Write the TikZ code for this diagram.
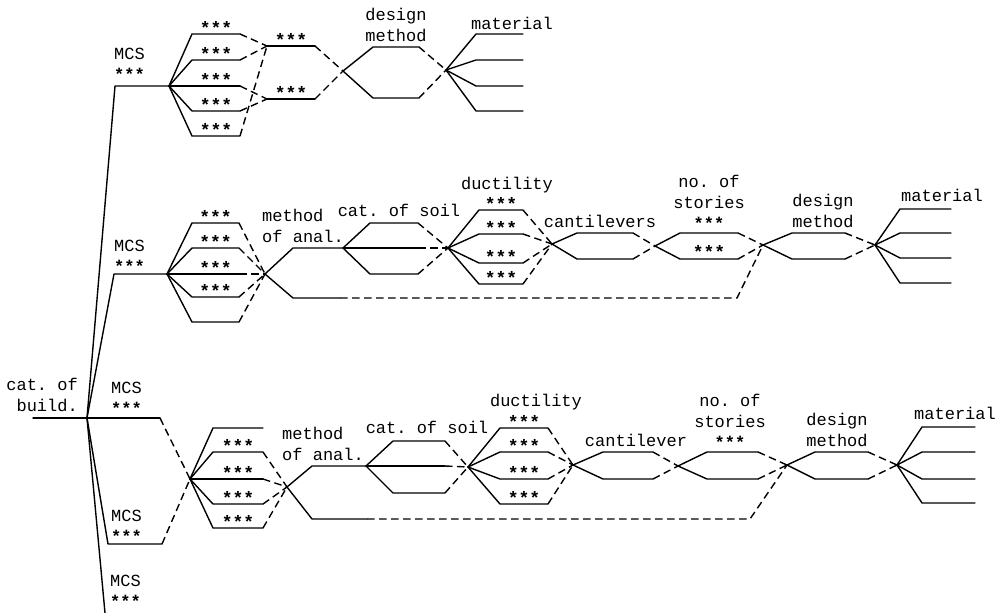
\documentclass[tikz,border=0pt]{standalone}
\usepackage{fontspec}
\setmonofont{Liberation Mono}
\usetikzlibrary{positioning}

\begin{document}
\begin{tikzpicture}[x=1pt, y=-1pt,
        font=\ttfamily\fontsize{17}{21}\selectfont,
        wire/.style={line width=1.4pt, line join=round, line cap=round},
        link/.style={line width=1.4pt, dash pattern=on 7.5pt off 4.5pt},
        stars/.style={anchor=south, inner sep=0pt, yshift=-1pt, font=\ttfamily\bfseries\fontsize{18}{21}\selectfont},
        word/.style={anchor=south, inner sep=0pt, align=center},
        wordl/.style={anchor=south west, inner sep=0pt, align=left}
    ]
    \useasboundingbox (0,0) rectangle (1004,613);

    % root and the five MCS branches
    \coordinate (r0) at (33,418);
    \coordinate (r) at (87,418);
    \draw [wire] (r0) -- (r);
    \node [word, anchor=south east, align=right] (cat) at (78,412) {cat. of\\build.};

    \coordinate (k1) at (115,86);
    \coordinate (t0) at (169,86);
    \coordinate (k2) at (114,274);
    \coordinate (m0) at (167,274);
    \coordinate (k3) at (160,418);
    \coordinate (k4) at (108,544);
    \coordinate (k4b) at (162,544);
    \coordinate (k5) at (105,613);
    \coordinate (b0) at (190,479);
    \draw [wire] (r) -- (k1) -- (t0);
    \draw [wire] (r) -- (k2) -- (m0);
    \draw [wire] (r) -- (k3);
    \draw [wire] (r) -- (k4) -- (k4b);
    \draw [wire] (r) -- (k5);
    \draw [link] (k3) -- (b0);
    \draw [link] (k4b) -- (b0);
    \node [wordl] (k1w) at (114,81) {MCS\\{\bfseries ***}};
    \node [wordl] (k2w) at (114,273) {MCS\\{\bfseries ***}};
    \node [wordl] (k3w) at (111,415) {MCS\\{\bfseries ***}};
    \node [wordl] (k4w) at (111,543) {MCS\\{\bfseries ***}};
    \node [wordl] (k5w) at (110,608) {MCS\\{\bfseries ***}};

    % top tree
    \coordinate (tua) at (267,46);
    \coordinate (tub) at (315,46);
    \coordinate (tla) at (267,99);
    \coordinate (tlb) at (315,99);
    \foreach \i/\y/\j in {1/34/tua, 2/60/tua, 3/86/tla, 4/111/tla, 5/136/tua} {
        \coordinate (t\i a) at (192,\y);
        \coordinate (t\i b) at (240,\y);
        \draw [wire] (t0) -- (t\i a) -- node [stars] (t\i s) {***} (t\i b);
        \draw [link] (t\i b) -- (\j);
    }
    \draw [wire] (tua) -- node [stars] (tus) {***} (tub);
    \draw [wire] (tla) -- node [stars] (tls) {***} (tlb);

    \coordinate (td) at (343,71);
    \coordinate (tm) at (446,70);
    \draw [link] (tub) -- (td);
    \draw [link] (tlb) -- (td);
    \foreach \i/\y in {1/47, 2/98} {
        \coordinate (td\i a) at (373,\y);
        \coordinate (td\i b) at (419,\y);
        \draw [wire] (td) -- (td\i a) -- (td\i b);
        \draw [link] (td\i b) -- (tm);
    }
    \node [word] (tdw) at (396,42) {design\\method};

    \foreach \i/\y in {1/34, 2/60, 3/86, 4/111} {
        \coordinate (tm\i a) at (476,\y);
        \coordinate (tm\i b) at (523,\y);
        \draw [wire] (tm) -- (tm\i a) -- (tm\i b);
    }
    \node [word] (tmw) at (512,30) {material};

    % middle tree
    \coordinate (mx) at (265,274);
    \foreach \i/\y in {1/223, 2/248, 3/274, 4/297} {
        \coordinate (m\i a) at (192,\y);
        \coordinate (m\i b) at (239,\y);
        \draw [wire] (m0) -- (m\i a) -- node [stars] (m\i s) {***} (m\i b);
        \draw [link] (m\i b) -- (mx);
    }
    \coordinate (m5a) at (192,322);
    \coordinate (m5b) at (239,322);
    \draw [wire] (m0) -- (m5a) -- (m5b);
    \draw [link] (m5b) -- (mx);

    \coordinate (mxa) at (293,248);
    \coordinate (ms) at (343,248);
    \coordinate (mxb) at (293,298);
    \coordinate (mxc) at (340,298);
    \coordinate (mxd) at (737,298);
    \coordinate (md) at (763,245);
    \draw [wire] (mx) -- (mxa) -- (ms);
    \draw [wire] (mx) -- (mxb) -- (mxc);
    \draw [link] (mxc) -- (mxd) -- (md);
    \node [wordl] (mxw) at (262,243) {method\\of anal.};

    \coordinate (mu) at (448,248);
    \foreach \i/\x/\y in {1/370/223, 2/343/248, 3/370/274} {
        \coordinate (ms\i a) at (\x,\y);
        \coordinate (ms\i b) at (418,\y);
        \draw [wire] (ms) -- (ms\i a) -- (ms\i b);
        \draw [link] (ms\i b) -- (mu);
    }
    \node [word] (msw) at (399,217) {cat. of soil};

    \coordinate (mc) at (552,244);
    \foreach \i/\y in {1/210, 2/234, 3/263, 4/284} {
        \coordinate (mu\i a) at (479,\y);
        \coordinate (mu\i b) at (523,\y);
        \draw [wire] (mu) -- (mu\i a) -- node [stars] (mu\i s) {***} (mu\i b);
        \draw [link] (mu\i b) -- (mc);
    }
    \node [word, anchor=base] (muw) at (507,189) {ductility};

    \coordinate (mn) at (655,246);
    \foreach \i/\y in {1/233, 2/259} {
        \coordinate (mc\i a) at (577,\y);
        \coordinate (mc\i b) at (633,\y);
        \draw [wire] (mc) -- (mc\i a) -- (mc\i b);
        \draw [link] (mc\i b) -- (mn);
    }
    \node [word] (mcw) at (600,228) {cantilevers};

    \foreach \i/\y in {1/233, 2/259} {
        \coordinate (mn\i a) at (680,\y);
        \coordinate (mn\i b) at (738,\y);
        \draw [wire] (mn) -- (mn\i a) -- (mn\i b);
        \draw [link] (mn\i b) -- (md);
    }
    \node [word] (mnw) at (709,230) {no. of\\stories\\{\bfseries ***}};
    \node [stars] (mn2s) at (709,258) {***};

    \coordinate (mm) at (875,245);
    \foreach \i/\y in {1/233, 2/259} {
        \coordinate (md\i a) at (792,\y);
        \coordinate (md\i b) at (845,\y);
        \draw [wire] (md) -- (md\i a) -- (md\i b);
        \draw [link] (md\i b) -- (mm);
    }
    \node [word] (mdw) at (823,228) {design\\method};

    \foreach \i/\y in {1/209, 2/233, 3/258, 4/283} {
        \coordinate (mm\i a) at (900,\y);
        \coordinate (mm\i b) at (951,\y);
        \draw [wire] (mm) -- (mm\i a) -- (mm\i b);
    }
    \node [word] (mmw) at (942,202) {material};

    % bottom tree
    \coordinate (bx) at (287,487);
    \coordinate (b1a) at (213,428);
    \coordinate (b1b) at (263,428);
    \draw [wire] (b0) -- (b1a) -- (b1b);
    \foreach \i/\y in {2/452, 3/479, 4/504, 5/528} {
        \coordinate (b\i a) at (213,\y);
        \coordinate (b\i b) at (263,\y);
        \draw [wire] (b0) -- (b\i a) -- node [stars] (b\i s) {***} (b\i b);
        \draw [link] (b\i b) -- (bx);
    }

    \coordinate (bxa) at (312,466);
    \coordinate (bs) at (366,466);
    \coordinate (bxb) at (312,519);
    \coordinate (bxc) at (367,519);
    \coordinate (bxd) at (750,519);
    \coordinate (bd) at (787,465);
    \draw [wire] (bx) -- (bxa) -- (bs);
    \draw [wire] (bx) -- (bxb) -- (bxc);
    \draw [link] (bxc) -- (bxd) -- (bd);
    \node [wordl] (bxw) at (282,461) {method\\of anal.};

    \coordinate (bu) at (468,467);
    \foreach \i/\x/\y in {1/393/441, 2/366/466, 3/393/493} {
        \coordinate (bs\i a) at (\x,\y);
        \coordinate (bs\i b) at (445,\y);
        \draw [wire] (bs) -- (bs\i a) -- (bs\i b);
        \draw [link] (bs\i b) -- (bu);
    }
    \node [word] (bsw) at (427,434) {cat. of soil};

    \coordinate (bc) at (573,465);
    \foreach \i/\y in {1/428, 2/452, 3/479, 4/504} {
        \coordinate (bu\i a) at (500,\y);
        \coordinate (bu\i b) at (548,\y);
        \draw [wire] (bu) -- (bu\i a) -- node [stars] (bu\i s) {***} (bu\i b);
        \draw [link] (bu\i b) -- (bc);
    }
    \node [word, anchor=base] (buw) at (536,406) {ductility};

    \coordinate (bn) at (678,466);
    \foreach \i/\y in {1/452, 2/479} {
        \coordinate (bc\i a) at (603,\y);
        \coordinate (bc\i b) at (653,\y);
        \draw [wire] (bc) -- (bc\i a) -- (bc\i b);
        \draw [link] (bc\i b) -- (bn);
    }
    \node [word] (bcw) at (636,447) {cantilever};

    \foreach \i/\y in {1/452, 2/479} {
        \coordinate (bn\i a) at (707,\y);
        \coordinate (bn\i b) at (758,\y);
        \draw [wire] (bn) -- (bn\i a) -- (bn\i b);
        \draw [link] (bn\i b) -- (bd);
    }
    \node [word] (bnw) at (730,449) {no. of\\stories\\{\bfseries ***}};

    \coordinate (bm) at (897,465);
    \foreach \i/\y in {1/452, 2/479} {
        \coordinate (bd\i a) at (815,\y);
        \coordinate (bd\i b) at (868,\y);
        \draw [wire] (bd) -- (bd\i a) -- (bd\i b);
        \draw [link] (bd\i b) -- (bm);
    }
    \node [word] (bdw) at (837,447) {design\\method};

    \foreach \i/\y in {1/427, 2/452, 3/479, 4/503} {
        \coordinate (bm\i a) at (922,\y);
        \coordinate (bm\i b) at (975,\y);
        \draw [wire] (bm) -- (bm\i a) -- (bm\i b);
    }
    \node [word] (bmw) at (955,420) {material};
\end{tikzpicture}
\end{document}
